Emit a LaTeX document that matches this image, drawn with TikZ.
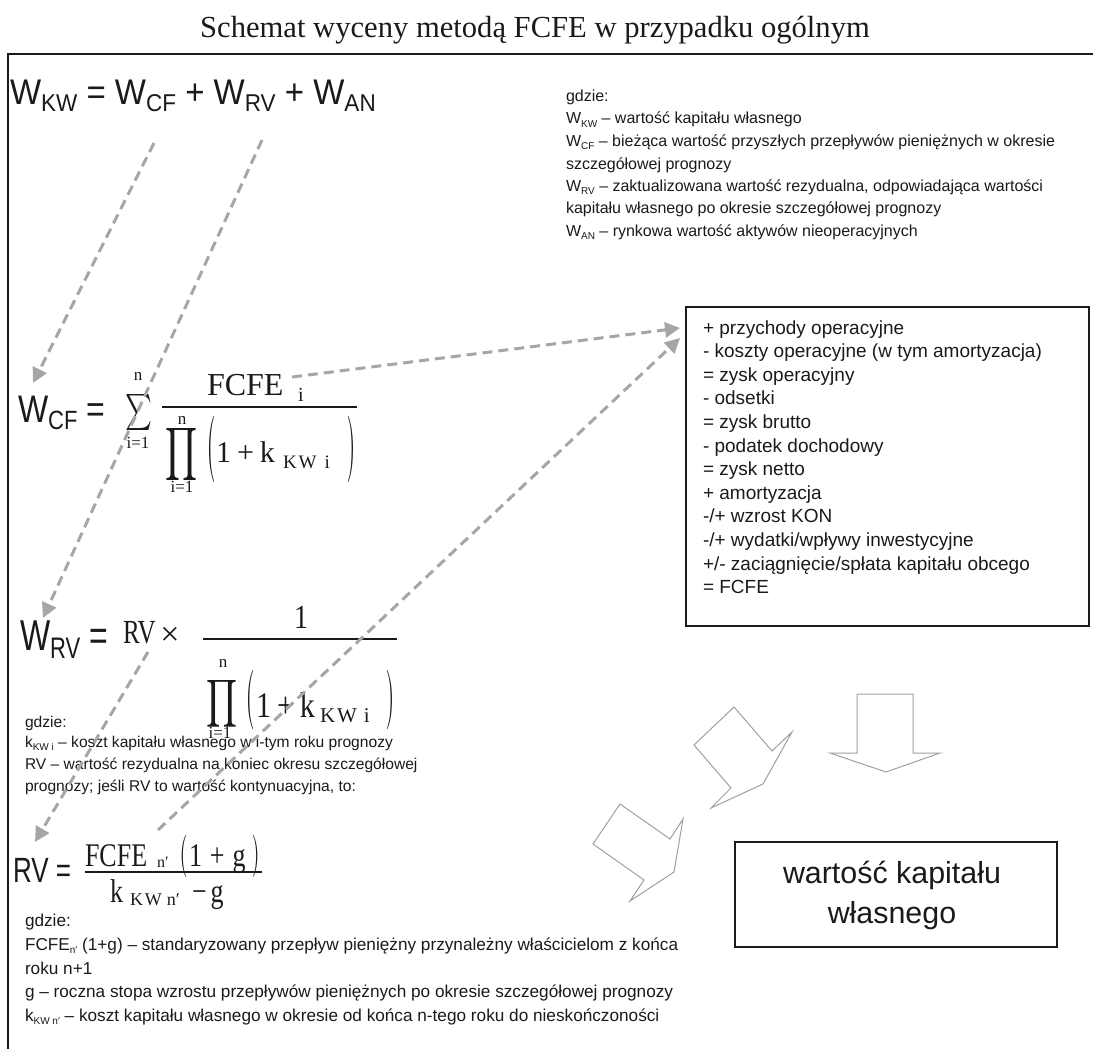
\documentclass[tikz,border=0pt]{standalone}
\usepackage{fontspec}
\setmainfont{Liberation Serif}
\setsansfont{Liberation Sans}
\usepackage{graphicx}
\usetikzlibrary{arrows.meta}
\newcommand\fsz[2]{\fontsize{#1}{#2}\selectfont}
\newcommand\lsub[3]{\raisebox{#1}{\fontsize{#2}{#2}\selectfont #3}}
\definecolor{dashgray}{HTML}{A6A6A6}
\definecolor{outgray}{HTML}{A0A0A0}
\definecolor{ink}{HTML}{1A1A1A}
\begin{document}
\begin{tikzpicture}[x=1pt,y=-1pt,
  every node/.style={inner sep=0pt, outer sep=0pt, text=ink},
  sans/.style={font=\sffamily\fsz{#1}{#1}},
  serif/.style={font=\rmfamily\fsz{#1}{#1}},
  dasharrow/.style={draw=dashgray, line width=3pt, dash pattern=on 10pt off 6pt, -{Triangle[length=15pt,width=15pt]}},
  hollow/.style={draw=outgray, line width=1pt, fill=white},
  frameline/.style={draw=ink, line width=2.5pt},
  boxframe/.style={draw=ink, line width=1.5pt},
  fracbar/.style={draw=ink, line width=1.2pt},
  lnA/.style={anchor=base west, sans=16},
  lnB/.style={anchor=base west, sans=15.6},
  lnC/.style={anchor=base west, sans=17.2},
  lnBox/.style={anchor=base west, sans=19}
]
\useasboundingbox (0,0) rectangle (1093,1049);
% title
\node[serif=30.6, anchor=base] (title) at (535,38) {Schemat wyceny metodą FCFE w przypadku ogólnym};
% frame
\draw[frameline] (1093,54) -- (8,54) -- (8,1049);

% main formula
\node[sans=33, anchor=base west] (wkw) at (10,105) {\scalebox{1}[1.08]{W\lsub{-6pt}{22.5}{KW} = W\lsub{-6pt}{22.5}{CF} + W\lsub{-6pt}{22.5}{RV} + W\lsub{-6pt}{22.5}{AN}}};

% legend top right
\node[lnA] (lg0) at (566,102) {gdzie:};
\node[lnA] (lg1) at (566,124) {W\lsub{-3pt}{10}{KW} – wartość kapitału własnego};
\node[lnA] (lg2) at (566,146.5) {W\lsub{-3pt}{10}{CF} – bieżąca wartość przyszłych przepływów pieniężnych w okresie};
\node[lnA] (lg3) at (566,169) {szczegółowej prognozy};
\node[lnA] (lg4) at (566,191) {W\lsub{-3pt}{10}{RV} – zaktualizowana wartość rezydualna, odpowiadająca wartości};
\node[lnA] (lg5) at (566,213.5) {kapitału własnego po okresie szczegółowej prognozy};
\node[lnA] (lg6) at (566,236) {W\lsub{-3pt}{10}{AN} – rynkowa wartość aktywów nieoperacyjnych};

% FCFE box
\node[boxframe, anchor=north west, minimum width=403pt, minimum height=319pt] (fcfebox) at (686,307) {};
\foreach \t [count=\i from 0] in {{+ przychody operacyjne},{- koszty operacyjne (w tym amortyzacja)},{= zysk operacyjny},{- odsetki},{= zysk brutto},{- podatek dochodowy},{= zysk netto},{+ amortyzacja},{-/+ wzrost KON},{-/+ wydatki/wpływy inwestycyjne},{+/- zaciągnięcie/spłata kapitału obcego},{= FCFE}}
  \node[lnBox] (bl\i) at (703,{334+23.6*\i}) {\t};

% W_CF formula
\node[sans=32, anchor=base west] (wcf) at (18,422) {\scalebox{1}[1.2]{W\lsub{-6pt}{22}{CF} =}};
\node (sum1) at (138.5,412) {\resizebox{27pt}{27pt}{$\sum$}};
\node[serif=17] (sum1n) at (138,376) {n};
\node[serif=17] (sum1i) at (138,443) {i=1};
\node[serif=32, anchor=base west] (fcfe1) at (207,395) {FCFE};
\node[serif=20, anchor=base west] (fcfe1i) at (298,401) {i};
\draw[fracbar] (162,407) -- (357,407);
\node (prod1) at (181,454) {\resizebox{32pt}{39pt}{$\displaystyle\prod$}};
\node[serif=17] (prod1n) at (182,420) {n};
\node[serif=17] (prod1i) at (182,487) {i=1};
\node (lp1) at (211,449) {\resizebox{9pt}{47pt}{$\big($}};
\node[serif=30, anchor=base west] (den1) at (216,462) {1\kern6pt+\kern6pt k};
\node[serif=19, anchor=base west] (den1s) at (283,468) {K\kern2pt W\kern8pt i};
\node (rp1) at (352,449) {\resizebox{9pt}{47pt}{$\big)$}};

% W_RV formula
\node[sans=32, anchor=base west] (wrv) at (20,650) {\scalebox{1}[1.35]{W\lsub{-6pt}{22}{RV} =}};
\node[serif=25, anchor=base west] (rv2) at (123,643) {\scalebox{1}[1.35]{RV}};
\node[serif=34] (times2) at (170,636) {×};
\draw[fracbar] (203,639) -- (397,639);
\node[serif=28, anchor=base] (one2) at (301,628) {\scalebox{1}[1.2]{1}};
\node (prod2) at (222,704) {\resizebox{31pt}{35pt}{$\displaystyle\prod$}};
\node[serif=17] (prod2n) at (223,663) {n};
\node[serif=17] (prod2i) at (220,733) {i=1};
\node (lp2) at (250,700) {\resizebox{9pt}{42pt}{$\big($}};
\node[serif=30, anchor=base west] (den2) at (256,717) {\scalebox{1}[1.2]{1\kern6pt+\kern6pt k}};
\node[serif=21, anchor=base west] (den2s) at (320,722) {K\kern2pt W\kern7pt i};
\node (rp2) at (391,700) {\resizebox{9pt}{42pt}{$\big)$}};

% middle legend
\node[lnB] (mg0) at (25,727) {gdzie:};
\node[lnB] (mg1) at (25,747) {k\lsub{-3pt}{10}{KW i} – koszt kapitału własnego w i-tym roku prognozy};
\node[lnB] (mg2) at (25,769) {RV – wartość rezydualna na koniec okresu szczegółowej};
\node[lnB] (mg3) at (25,791) {prognozy; jeśli RV to wartość kontynuacyjna, to:};

% RV formula (bar at y=872)
\node[sans=26, anchor=base west] (rv3) at (13,882) {\scalebox{1}[1.35]{RV =}};
\node[serif=26, anchor=base west] (fcfe3) at (85,866) {\scalebox{1}[1.27]{FCFE}};
\node[serif=16, anchor=base west] (fcfe3s) at (157,867) {n′};
\node (lp3) at (183,856) {\resizebox{8pt}{30pt}{$\big($}};
\node[serif=26, anchor=base west] (num3) at (189,866) {\scalebox{1}[1.27]{1\kern8pt+\kern8pt g}};
\node (rp3) at (256,856) {\resizebox{8pt}{30pt}{$\big)$}};
\draw[fracbar] (85,872) -- (262,872);
\node[serif=26, anchor=base west] (k3) at (110,902) {\scalebox{1}[1.27]{k}};
\node[serif=18, anchor=base west] (k3s) at (130,905) {K\kern2pt W\kern5pt n′};
\node[serif=26, anchor=base west] (mg3f) at (192,902) {\scalebox{1}[1.27]{−\kern4pt g}};

% bottom legend
\node[lnC] (bg0) at (25,926) {gdzie:};
\node[lnC] (bg1) at (25,950) {FCFE\lsub{-3pt}{10}{n′} (1+g) – standaryzowany przepływ pieniężny przynależny właścicielom z końca};
\node[lnC] (bg2) at (25,974) {roku n+1};
\node[lnC] (bg3) at (25,997.5) {g – roczna stopa wzrostu przepływów pieniężnych po okresie szczegółowej prognozy};
\node[lnC] (bg4) at (25,1021) {k\lsub{-3pt}{10}{KW n′} – koszt kapitału własnego w okresie od końca n-tego roku do nieskończoności};

% result box
\node[boxframe, anchor=north west, minimum width=322pt, minimum height=105pt] (wkbox) at (735,842) {};
\node[sans=30.4, anchor=base] (wk1) at (892,883) {wartość kapitału};
\node[sans=30.4, anchor=base] (wk2) at (892,923) {własnego};

% hollow block arrows
\draw[hollow] (857,694) -- (913,694) -- (913,753) -- (940,753) -- (886,772) -- (830,753) -- (857,753) -- cycle;
\draw[hollow] (694,745) -- (734,707) -- (772,751) -- (792,732) -- (763,784) -- (711,808) -- (731,788) -- cycle;
\draw[hollow] (593,844) -- (620,804) -- (670,839) -- (683,819) -- (674,872) -- (630,901) -- (644,880) -- cycle;

% dashed connectors
\coordinate (cfsub) at (154,143);
\coordinate (cftgt) at (33,383);
\coordinate (rvsub) at (262,140);
\coordinate (rvtgt) at (43,618);
\coordinate (fcfesrc) at (292,377);
\coordinate (boxin1) at (680,328);
\coordinate (rvfsrc) at (158,830);
\coordinate (boxin2) at (680,338);
\coordinate (rvxsrc) at (148,652);
\coordinate (rvftgt) at (35,842);
\draw[dasharrow] (cfsub) -- (cftgt);
\draw[dasharrow] (rvsub) -- (rvtgt);
\draw[dasharrow] (fcfesrc) -- (boxin1);
\draw[dasharrow] (rvfsrc) -- (boxin2);
\draw[dasharrow] (rvxsrc) -- (rvftgt);
\end{tikzpicture}
\end{document}
